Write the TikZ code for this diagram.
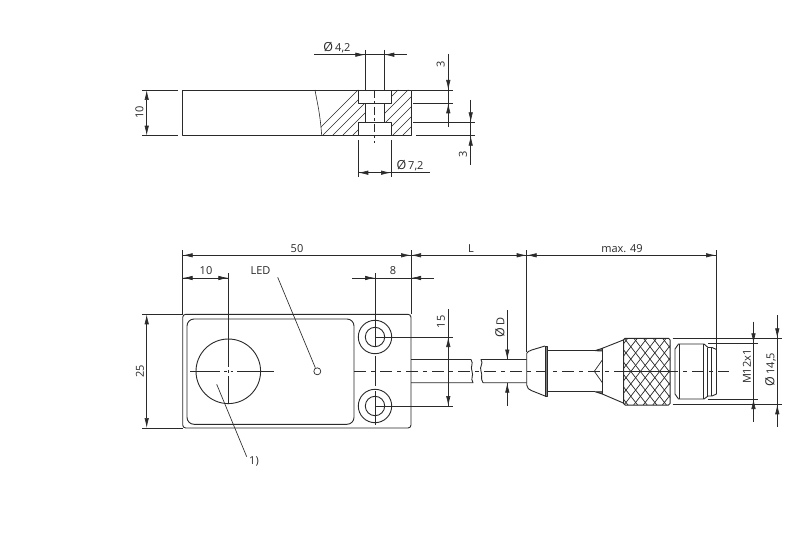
\documentclass[tikz,border=0pt]{standalone}
\usepackage{fontspec}
\setmainfont{Open Sans}
\usetikzlibrary{arrows.meta}
\definecolor{ink}{HTML}{2A2A2A}
\newcommand{\dia}{{\fontsize{12.5}{12.5}\selectfont\O}\kern2pt}
\tikzset{
  part/.style={draw=ink,line width=0.9pt,line join=round},
  thin line/.style={draw=ink,line width=0.65pt},
  dimension/.style={draw=ink,line width=0.65pt},
  tip/.style={draw=ink,line width=0.65pt,-{Latex[length=10pt,width=4.4pt]}},
  centre/.style={draw=ink,line width=0.65pt,dash pattern=on 12pt off 5pt on 4pt off 5pt},
  hatching/.style={draw=ink,line width=0.55pt},
  label/.style={inner sep=0pt,text=ink,font=\fontsize{11}{11}\selectfont},
  vlabel/.style={label,rotate=90}
}
\begin{document}
\begin{tikzpicture}[x=1pt,y=-1pt]
\useasboundingbox (0,0) rectangle (800,548);
\fill[white] (0,0) rectangle (800,548);

% ---- section view ----
\begin{scope}
\clip (315,90) .. controls (317,102) and (320,112) .. (321.7,135.7) -- (358.3,135.7) -- (358.3,122.3) -- (365.3,122.3) -- (365.3,103.3) -- (358.3,103.3) -- (358.3,90) -- cycle
 (391,90) -- (391,103.3) -- (384.3,103.3) -- (384.3,122.3) -- (391,122.3) -- (391,135.7) -- (411.7,135.7) -- (411.7,90) -- cycle;
\foreach \k in {0,...,14} {
  \draw[hatching] ({308+\k*10},140) -- ({308+\k*10+55},85);
}
\end{scope}
\draw[part] (182.7,90) rectangle (411.7,135.7);
\draw[part,line width=0.6pt] (315,90) .. controls (317,102) and (320,112) .. (321.7,135.7);
\draw[part] (358.3,90) -- (358.3,103.3) -- (391,103.3) -- (391,90);
\draw[part] (358.3,135.7) -- (358.3,122.3) -- (391,122.3) -- (391,135.7);
\draw[part] (365.3,103.3) -- (365.3,122.3) (384.3,103.3) -- (384.3,122.3);
\draw[centre,dash pattern=on 8pt off 3pt on 3pt off 3pt] (374.7,90) -- (374.7,143);

% dimension 10
\draw[thin line] (142,90) -- (178,90) (142,135.7) -- (178,135.7);
\draw[tip] (146.7,112) -- (146.7,90);
\draw[tip] (146.7,112) -- (146.7,135.7);
\node[vlabel] (tenh) at (139.5,112.5) {10};

% dimension dia 4,2
\draw[thin line] (365.3,50) -- (365.3,90) (384.3,50) -- (384.3,90);
\draw[dimension] (314,54.7) -- (407,54.7);
\draw[tip] (352,54.7) -- (365.3,54.7);
\draw[tip] (397,54.7) -- (384.3,54.7);
\node[label] (dfour) at (337,47.5) {\dia 4,2};

% dimension 3 upper
\draw[thin line] (411.7,90) -- (453,90) (413,103.3) -- (453,103.3);
\draw[dimension] (448.3,54) -- (448.3,127);
\draw[tip] (448.3,72) -- (448.3,90);
\draw[tip] (448.3,120) -- (448.3,103.3);
\node[vlabel] (threea) at (440.7,64) {3};

% dimension 3 lower
\draw[thin line] (413,122.3) -- (475,122.3) (416,135.7) -- (475,135.7);
\draw[dimension] (470.7,100) -- (470.7,165);
\draw[tip] (470.7,108) -- (470.7,122.3);
\draw[tip] (470.7,150) -- (470.7,135.7);
\node[vlabel] (threeb) at (463,154) {3};

% dimension dia 7,2
\draw[thin line] (358.3,140) -- (358.3,177) (391,140) -- (391,177);
\draw[dimension] (358.3,172.7) -- (430,172.7);
\draw[tip] (372,172.7) -- (358.3,172.7);
\draw[tip] (377,172.7) -- (391,172.7);
\node[label] (dseven) at (410,166) {\dia 7,2};

% ---- front view ----
\draw[part,rounded corners=3pt] (182.7,314.3) rectangle (411,428);
\draw[part,rounded corners=7pt] (187,319) rectangle (354,424.3);
\draw[part] (228.3,371.3) circle (32.3);
\draw[part] (375,337) circle (16.7) (375,337) circle (9.7);
\draw[part] (375,406) circle (16.7) (375,406) circle (9.7);
\draw[part,line width=0.7pt] (317.3,371.3) circle (3.5);

% centre lines
\draw[thin line] (190,371.3) -- (220,371.3) (224,371.3) -- (226.5,371.3) (230.5,371.3) -- (233,371.3) (237,371.3) -- (274,371.3);
\draw[centre] (354,371.3) -- (729,371.3);
\draw[thin line] (228.3,273) -- (228.3,367) (228.3,369.5) -- (228.3,373) (228.3,376) -- (228.3,403);
\draw[thin line] (375,273) -- (375,347) (375,356) -- (375,386) (375,391) -- (375,425);

% leaders
\coordinate (ledtip) at (315.3,367.7);
\node[label] (ledlabel) at (260.5,271) {LED};
\draw[thin line] (277.7,277.3) -- (ledtip);
\node[label] (onelabel) at (254,461) {1)};
\draw[thin line] (216.7,384.3) -- (246.7,456.7);

% dimensions upper row
\draw[thin line] (182.7,250) -- (182.7,314.3) (411,250) -- (411,314.3) (526.7,250) -- (526.7,352) (716,250) -- (716,350);
\draw[dimension] (182.7,255.3) -- (716,255.3);
\draw[tip] (205,255.3) -- (182.7,255.3);
\draw[tip] (385,255.3) -- (411,255.3);
\draw[tip] (425,255.3) -- (411,255.3);
\draw[tip] (505,255.3) -- (526.7,255.3);
\draw[tip] (541,255.3) -- (526.7,255.3);
\draw[tip] (700,255.3) -- (716,255.3);
\node[label] (fifty) at (297,249) {50};
\node[label] (ell) at (471,249) {L};
\node[label] (maxn) at (622,249) {max. 49};

\draw[dimension] (182.7,278) -- (228.3,278);
\draw[tip] (197,278) -- (182.7,278);
\draw[tip] (215,278) -- (228.3,278);
\node[label] (tenv) at (206,271) {10};

\draw[dimension] (352,278) -- (434,278);
\draw[tip] (362,278) -- (375,278);
\draw[tip] (424,278) -- (411,278);
\node[label] (eight) at (393,271) {8};

% dimension 25
\draw[thin line] (142,314.3) -- (183,314.3) (142,428) -- (183,428);
\draw[tip] (146.7,371) -- (146.7,314.3);
\draw[tip] (146.7,371) -- (146.7,428);
\node[vlabel] (twfive) at (140,371) {25};

% dimension 15
\draw[thin line] (375,337) -- (453,337) (375,406) -- (453,406);
\draw[dimension] (448.3,309) -- (448.3,406);
\draw[tip] (448.3,352) -- (448.3,337);
\draw[tip] (448.3,391) -- (448.3,406);
\node[vlabel] (fifteen) at (441,322) {15};

% cable
\draw[part] (411,359.5) -- (471,359.5) .. controls (474,364) and (470,366) .. (472,371.3) .. controls (474,376) and (470,378) .. (473,382.7) -- (411,382.7);
\draw[part] (526.7,359.5) -- (481,359.5) .. controls (484,364) and (479,366) .. (481,371.3) .. controls (483,376) and (480,378) .. (483,382.7) -- (526.7,382.7);

% dimension dia D
\draw[dimension] (507.3,310) -- (507.3,359.5) (507.3,382.7) -- (507.3,406);
\draw[tip] (507.3,347) -- (507.3,359.5);
\draw[tip] (507.3,395) -- (507.3,382.7);
\node[vlabel] (diad) at (500,327.7) {\dia D};

% connector
\draw[part] (526.7,385) .. controls (527,388) and (529,390) .. (531.7,390.7) -- (545,396) (545,346) -- (531.7,350) .. controls (529,351) and (527,352) .. (526.7,353.3) -- (526.7,385);
\draw[part,fill=ink!60] (545,346) rectangle (547.3,396.7);
\draw[part] (547.3,350.7) -- (595,350.7) (547.3,391.7) -- (595,391.7);
\draw[part,fill=ink!60] (595,350.7) -- (602.3,348.3) -- (602.3,351) -- cycle;
\draw[part,fill=ink!60] (595,391.7) -- (602.3,394) -- (602.3,391.7) -- cycle;
\draw[part] (602.3,348.3) -- (623.3,340) (602.3,394) -- (623.3,403);
\draw[part] (602.3,348.3) -- (602.3,394);
\draw[part,line width=0.7pt] (602.3,360) -- (594.3,371.3) -- (602.3,382.6);

% knurl
\begin{scope}
\clip[rounded corners=1.5pt] (624,338.3) rectangle (670,405);
\foreach \k in {-8,...,12} {
  \draw[draw=ink,line width=0.7pt] ({624+\k*9.6},338) -- ({624+\k*9.6+52},405);
  \draw[draw=ink,line width=0.7pt] ({624+\k*9.6},405) -- ({624+\k*9.6+52},338);
}
\end{scope}
\draw[part,rounded corners=1.5pt,line width=1pt] (623.6,338.3) rectangle (670,405);
\draw[part] (623.6,371.3) -- (670,371.3);

% thread
\draw[part] (675,349) -- (678.5,344) -- (704,344) -- (708,347.5) -- (712,347.5) -- (716.5,349.5) -- (716.5,394) -- (712,396) -- (708,396) -- (704,399) -- (678.5,399) -- (675,394) -- cycle;
\draw[part] (679,344) -- (679,399) (703.5,344) -- (703.5,399) (707,347.5) -- (707,396) (711.7,347.5) -- (711.7,396);

% dimension M12x1
\draw[thin line] (708,343.3) -- (758,343.3) (708,399) -- (758,399);
\draw[dimension] (753.5,321.7) -- (753.5,421.7);
\draw[tip] (753.5,331) -- (753.5,343.3);
\draw[tip] (753.5,411) -- (753.5,399);
\node[vlabel] (mtwelve) at (747,366.7) {M12x1};

% dimension dia 14,5
\draw[thin line] (672.7,338.3) -- (781.7,338.3) (672.7,404.3) -- (781.7,404.3);
\draw[dimension] (777.3,315) -- (777.3,426.7);
\draw[tip] (777.3,326) -- (777.3,338.3);
\draw[tip] (777.3,416) -- (777.3,404.3);
\node[vlabel] (diafour) at (770.5,369.5) {\dia 14,5};
\end{tikzpicture}
\end{document}
